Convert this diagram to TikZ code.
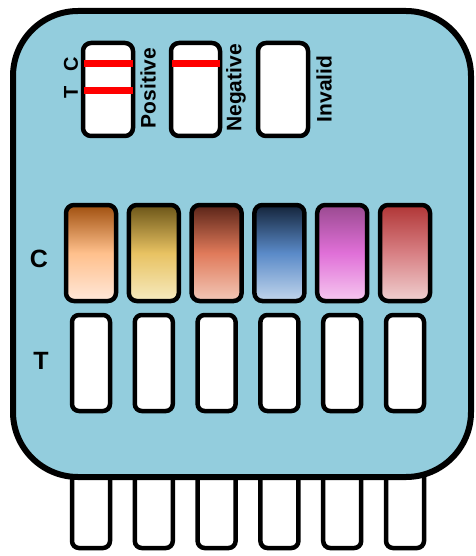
\documentclass[tikz,border=0pt]{standalone}
\usepackage{fontspec}
\setmainfont{Liberation Sans}
\usepackage{xcolor}

\definecolor{cardblue}{HTML}{93CDDD}
\definecolor{lineRed}{HTML}{FF0000}
\definecolor{oneT}{HTML}{A0500F}\definecolor{oneM}{HTML}{FFC08C}\definecolor{oneB}{HTML}{FFE8DA}
\definecolor{twoT}{HTML}{6B5518}\definecolor{twoM}{HTML}{E8C262}\definecolor{twoB}{HTML}{F6EBC0}
\definecolor{threeT}{HTML}{5A2418}\definecolor{threeM}{HTML}{E07A5A}\definecolor{threeB}{HTML}{F2C8B8}
\definecolor{fourT}{HTML}{14243A}\definecolor{fourM}{HTML}{5A8AC8}\definecolor{fourB}{HTML}{C2D6EC}
\definecolor{fiveT}{HTML}{9A4A90}\definecolor{fiveM}{HTML}{E070D8}\definecolor{fiveB}{HTML}{F6C8F0}
\definecolor{sixT}{HTML}{B03636}\definecolor{sixM}{HTML}{D88084}\definecolor{sixB}{HTML}{F0D0D0}

\tikzset{
  card/.style={line width=6pt,fill=cardblue,rounded corners=65pt},
  stripbox/.style={line width=4.5pt,fill=white,rounded corners=7pt},
  padbox/.style={line width=4.5pt,rounded corners=8pt},
  redline/.style={line width=7pt,draw=lineRed},
  lbl/.style={font=\fontsize{21}{21}\selectfont\bfseries,rotate=90,inner sep=0pt},
  smalllbl/.style={font=\fontsize{20}{20}\selectfont\bfseries,rotate=90,inner sep=0pt},
  rowlbl/.style={font=\fontsize{25}{25}\selectfont\bfseries,inner sep=0pt}
}

\begin{document}
\begin{tikzpicture}[x=1pt,y=-1pt]
\useasboundingbox (0,0) rectangle (475,556);
% prongs under the card
\foreach \i in {0,...,5}
  \draw[stripbox] ({91+62.8*\i-19},440) rectangle ({91+62.8*\i+19},548);
% card
\draw[card] (13,11) rectangle (471,477);
% legend
\draw[stripbox,rounded corners=8pt] (83,43) rectangle (133,136);
\draw[stripbox,rounded corners=8pt] (171,43) rectangle (220,136);
\draw[stripbox,rounded corners=8pt] (258,43) rectangle (308,136);
\draw[redline] (84,64) -- (133,64);
\draw[redline] (84,91) -- (133,91);
\draw[redline] (172,64) -- (220,64);
\node[smalllbl] (legC) at (71,64) {C};
\node[smalllbl] (legT) at (71,92) {T};
\node[lbl] (pos) at (148,88) {Positive};
\node[lbl] (neg) at (236,88) {Negative};
\node[lbl] (inv) at (324,89) {Invalid};
% C row
\foreach \i/\cc in {0/one,1/two,2/three,3/four,4/five,5/six}
  \draw[padbox,top color=\cc T,bottom color=\cc B,middle color=\cc M]
    ({91+62.8*\i-25},205) rectangle ({91+62.8*\i+25},301);
% T row
\foreach \i in {0,...,5}
  \draw[stripbox] ({91+62.8*\i-19},315) rectangle ({91+62.8*\i+19},411);
\node[rowlbl] (rowC) at (39,259) {C};
\node[rowlbl] (rowT) at (41,361) {T};
\end{tikzpicture}
\end{document}
